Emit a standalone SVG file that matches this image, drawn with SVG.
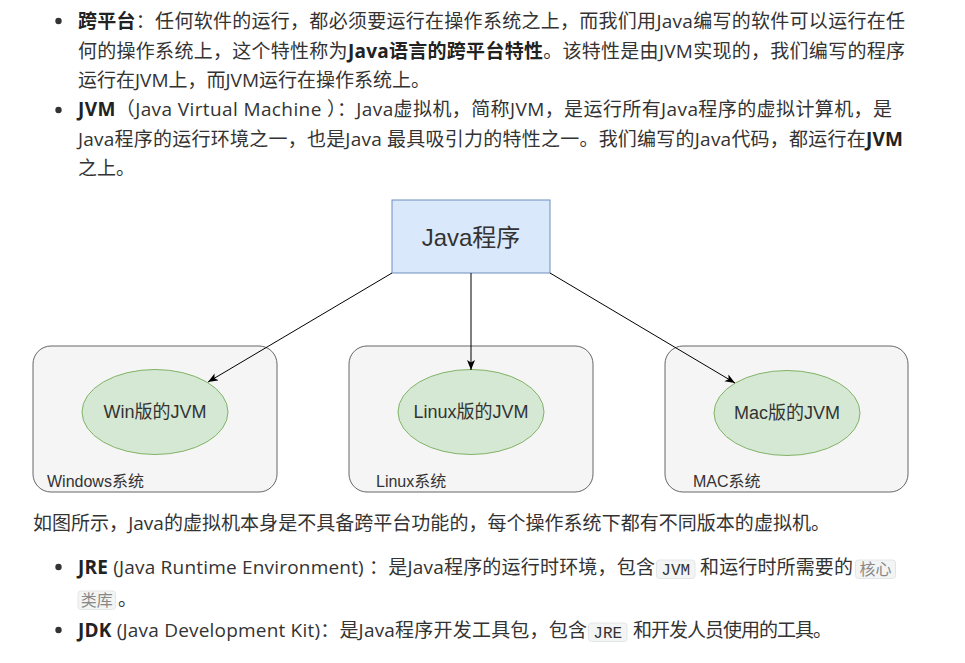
<svg xmlns="http://www.w3.org/2000/svg" width="965" height="663" viewBox="0 0 965 663">
<defs>
<style>
.p{font-family:"Open Sans","Noto Sans CJK SC",sans-serif;font-size:19px;fill:#333;}
.b{font-weight:bold;fill:#222;}
.code{font-family:"Liberation Mono","DejaVu Sans Mono","Noto Sans CJK SC",monospace;font-size:16px;fill:#333;}
.codeg{font-family:"Noto Sans CJK SC",sans-serif;font-size:16px;fill:#888;}
.cbox{fill:#f3f4f4;stroke:#e3e6e8;stroke-width:1;}
.bul{fill:#333;}
.sys{fill:#f5f5f5;stroke:#666;stroke-width:1;}
.jvm{fill:#d5e8d4;stroke:#82b366;stroke-width:1;}
.lbl{font-family:"Liberation Sans","Noto Sans CJK SC",sans-serif;fill:#333;}
.edge{stroke:#000;stroke-width:1;fill:none;marker-end:url(#arr);}
</style>
<marker id="arr" markerUnits="userSpaceOnUse" markerWidth="12" markerHeight="10" refX="10" refY="4" orient="auto">
<path d="M0,0 L10,4 L0,8 L2.5,4 Z" fill="#000"/>
</marker>
</defs>
<rect width="965" height="663" fill="#fff"/>

<g id="text-top">
<circle class="bul" cx="58.5" cy="21" r="3.2"/>
<text class="p" x="78" y="28" textLength="827" lengthAdjust="spacing"><tspan class="b">跨平台</tspan>：任何软件的运行，都必须要运行在操作系统之上，而我们用Java编写的软件可以运行在任</text>
<text class="p" x="78" y="57.5" textLength="827" lengthAdjust="spacing">何的操作系统上，这个特性称为<tspan class="b">Java语言的跨平台特性</tspan>。该特性是由JVM实现的，我们编写的程序</text>
<text class="p" x="78" y="86.5">运行在JVM上，而JVM运行在操作系统上。</text>
<circle class="bul" cx="58.5" cy="110" r="3.2"/>
<text class="p" x="78" y="116" textLength="814" lengthAdjust="spacing"><tspan class="b">JVM</tspan>（Java Virtual Machine ）：Java虚拟机，简称JVM，是运行所有Java程序的虚拟计算机，是</text>
<text class="p" x="78" y="145.5" textLength="825" lengthAdjust="spacing">Java程序的运行环境之一，也是Java 最具吸引力的特性之一。我们编写的Java代码，都运行在<tspan class="b">JVM</tspan></text>
<text class="p" x="78" y="174.5">之上。</text>
</g>

<g id="java-program">
<rect x="392" y="200" width="158" height="73" fill="#dae8fc" stroke="#6c8ebf" stroke-width="1"/>
<text class="lbl" x="471" y="246" font-size="24" text-anchor="middle">Java程序</text>
</g>

<g id="windows">
<rect class="sys" x="33" y="346" width="244" height="146" rx="18" ry="18"/>
<text class="lbl" x="47" y="487" font-size="16">Windows系统</text>
</g>
<g id="win-jvm">
<ellipse class="jvm" cx="155" cy="412" rx="73" ry="42.5"/>
<text class="lbl" x="155" y="418" font-size="18" text-anchor="middle">Win版的JVM</text>
</g>

<g id="linux">
<rect class="sys" x="349" y="346" width="244" height="146" rx="18" ry="18"/>
<text class="lbl" x="376" y="487" font-size="16">Linux系统</text>
</g>
<g id="linux-jvm">
<ellipse class="jvm" cx="471" cy="412" rx="73" ry="42.5"/>
<text class="lbl" x="471" y="418" font-size="18" text-anchor="middle">Linux版的JVM</text>
</g>

<g id="mac">
<rect class="sys" x="665" y="346" width="243" height="146" rx="18" ry="18"/>
<text class="lbl" x="693" y="487" font-size="16">MAC系统</text>
</g>
<g id="mac-jvm">
<ellipse class="jvm" cx="787" cy="413" rx="73" ry="42.5"/>
<text class="lbl" x="787" y="419" font-size="18" text-anchor="middle">Mac版的JVM</text>
</g>

<g id="connectors">
<line class="edge" x1="392" y1="273" x2="208" y2="382"/>
<line class="edge" x1="471" y1="273" x2="471" y2="370"/>
<line class="edge" x1="550" y1="273" x2="735" y2="383"/>
</g>

<g id="text-bottom">
<text class="p" x="33" y="530" textLength="797" lengthAdjust="spacing">如图所示，Java的虚拟机本身是不具备跨平台功能的，每个操作系统下都有不同版本的虚拟机。</text>

<circle class="bul" cx="58.5" cy="567" r="3.2"/>
<text class="p" x="78" y="573.5" textLength="577" lengthAdjust="spacing"><tspan class="b">JRE</tspan> (Java Runtime Environment) ：是Java程序的运行时环境，包含</text>
<rect class="cbox" x="656.5" y="560" width="38.5" height="18.5" rx="3"/>
<text class="code" x="675.7" y="574.5" text-anchor="middle">JVM</text>
<text class="p" x="700" y="573.5" textLength="153" lengthAdjust="spacing">和运行时所需要的</text>
<rect class="cbox" x="855.5" y="560" width="40" height="18.5" rx="3"/>
<text class="codeg" x="875.5" y="575" text-anchor="middle">核心</text>

<rect class="cbox" x="78" y="591" width="37.5" height="18.5" rx="3"/>
<text class="codeg" x="96.7" y="606" text-anchor="middle">类库</text>
<text class="p" x="118" y="606">。</text>

<circle class="bul" cx="58.5" cy="630" r="3.2"/>
<text class="p" x="78" y="636.5" textLength="509" lengthAdjust="spacing"><tspan class="b">JDK</tspan> (Java Development Kit)：是Java程序开发工具包，包含</text>
<rect class="cbox" x="588.5" y="623" width="38.5" height="18.5" rx="3"/>
<text class="code" x="607.7" y="637.5" text-anchor="middle">JRE</text>
<text class="p" x="633" y="636.5" textLength="199" lengthAdjust="spacing">和开发人员使用的工具。</text>
</g>
</svg>
